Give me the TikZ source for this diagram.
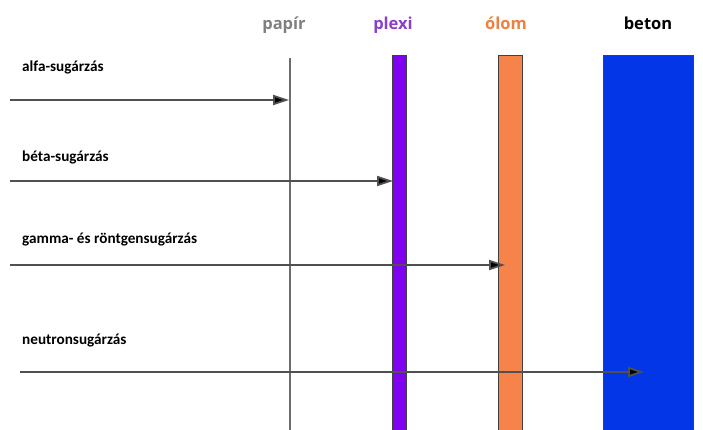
\documentclass[tikz,border=0pt]{standalone}
\usepackage{fontspec}
\setmainfont{Carlito}
\newfontfamily\headfont{Open Sans}
\usetikzlibrary{arrows.meta}
\definecolor{papirgray}{HTML}{808080}
\definecolor{plexicol}{HTML}{8000F0}
\definecolor{plexitxt}{HTML}{8A3FCC}
\definecolor{olomcol}{HTML}{F5834A}
\definecolor{olomtxt}{HTML}{EE8040}
\definecolor{betoncol}{HTML}{0336E6}
\definecolor{linecol}{HTML}{505050}
\tikzset{
  x=1pt, y=-1pt,
  head/.style={font=\headfont\bfseries\fontsize{16.5}{18}\selectfont, inner sep=0pt, anchor=base},
  rlabel/.style={font=\bfseries\fontsize{15.2}{18}\selectfont, inner sep=0pt, anchor=west},
  slab/.style={draw=black!75, line width=1pt, inner sep=0pt, outer sep=0pt},
  ray/.style={draw=linecol, line width=1.8pt, -{Triangle[length=16pt,width=10pt,fill=black]}},
}
\begin{document}
\begin{tikzpicture}
\useasboundingbox (0,0) rectangle (703,430);
% headers
\node[head, text=papirgray] (hpapir) at (284,30) {papír};
\node[head, text=plexitxt] (hplexi) at (393,30) {plexi};
\node[head, text=olomtxt] (holom) at (506,30) {ólom};
\node[head, text=black] (hbeton) at (648,30) {beton};
% absorbers
\coordinate (paptop) at (290,58);
\coordinate (papbot) at (290,430);
\draw[draw=papirgray!85!black, line width=2.2pt] (paptop) -- (papbot);
\node[slab, fill=plexicol, minimum width=14pt, minimum height=376pt, anchor=north west] (plexi) at (392.5,56) {};
\node[slab, fill=olomcol, minimum width=24pt, minimum height=376pt, anchor=north west] (olom) at (498,56) {};
\node[slab, fill=betoncol, minimum width=90pt, minimum height=376pt, anchor=north west] (beton) at (603,56) {};
% labels
\node[rlabel] (lalfa) at (22,67) {alfa-sugárzás};
\node[rlabel] (lbeta) at (22,157) {béta-sugárzás};
\node[rlabel] (lgamma) at (22,240) {gamma- és röntgensugárzás};
\node[rlabel] (lneutron) at (22,341) {neutronsugárzás};
% rays
\coordinate (salfa) at (10,100);
\coordinate (sbeta) at (10,181);
\coordinate (sgamma) at (10,265);
\coordinate (sneutron) at (20,372);
\coordinate (ealfa) at (289,100);
\coordinate (ebeta) at (393,181);
\coordinate (egamma) at (505,265);
\coordinate (eneutron) at (644,372);
\draw[ray] (salfa) -- (ealfa);
\draw[ray] (sbeta) -- (ebeta);
\draw[ray] (sgamma) -- (egamma);
\draw[ray] (sneutron) -- (eneutron);
\end{tikzpicture}
\end{document}
